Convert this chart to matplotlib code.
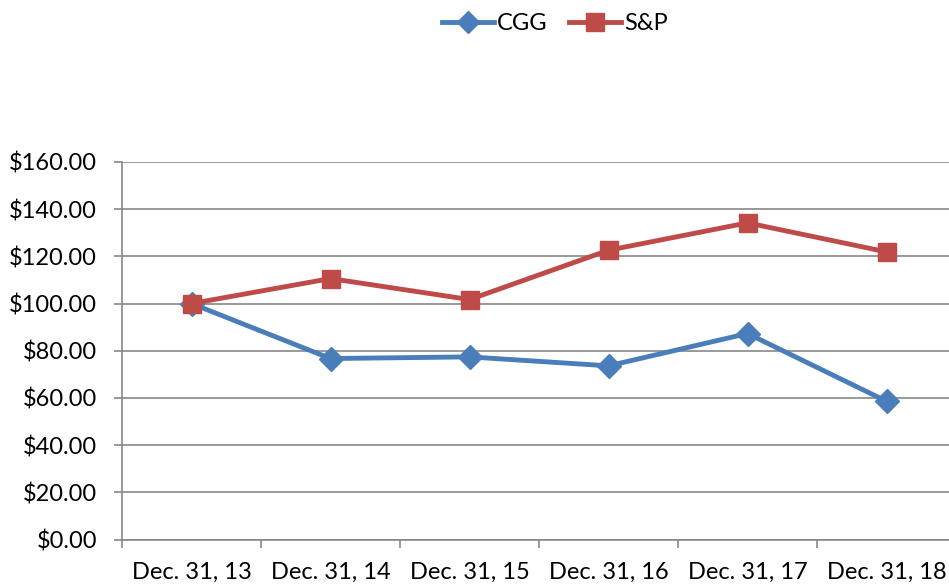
import matplotlib.pyplot as plt
from matplotlib.lines import Line2D
import numpy as np

plt.rcParams['font.family'] = ['Lato', 'DejaVu Sans']

dates = ["Dec. 31, 13", "Dec. 31, 14", "Dec. 31, 15", "Dec. 31, 16", "Dec. 31, 17", "Dec. 31, 18"]
cgg = [100.0, 76.7, 77.4, 73.6, 87.3, 58.6]
snp = [100.0, 110.6, 101.7, 122.6, 134.2, 121.9]

BLUE = "#4A7EBB"
RED = "#BE4B48"
GRID = "#888888"

fig = plt.figure(figsize=(9.49, 5.85), dpi=100)
W, H = 949, 585
ax = fig.add_axes([122 / W, (H - 539.5) / H, (956 - 122) / W, (539.5 - 162) / H])

x = np.arange(len(dates))
ax.plot(x, cgg, color=BLUE, lw=3.5, marker="D", ms=12, mec=BLUE, mfc=BLUE, zorder=3)
ax.plot(x, snp, color=RED, lw=3.5, marker="s", ms=13.5, mec=RED, mfc=RED, zorder=4)

ax.set_xlim(-0.5, len(dates) - 0.5)
ax.set_ylim(0, 160)
ax.set_yticks(np.arange(0, 161, 20))
ax.set_yticklabels([f"${v:.2f}" for v in np.arange(0, 161, 20)])
ax.yaxis.grid(True, color=GRID, lw=1.2)
ax.set_axisbelow(True)

ax.set_xticks(x)
ax.set_xticklabels(dates)
ax.set_xticks(np.arange(-0.5, len(dates)), minor=True)
ax.tick_params(axis="x", which="major", length=0, pad=16, labelsize=17)
ax.tick_params(axis="x", which="minor", length=6, width=1.2, color=GRID)
ax.tick_params(axis="y", length=6, width=1.2, color=GRID, pad=12, labelsize=17)

for s in ["top", "right"]:
    ax.spines[s].set_visible(False)
for s in ["left", "bottom"]:
    ax.spines[s].set_color(GRID)
    ax.spines[s].set_linewidth(1.2)

handles = [
    Line2D([0], [0], color=BLUE, lw=3.5, marker="D", ms=11, label="CGG"),
    Line2D([0], [0], color=RED, lw=3.5, marker="s", ms=12.5, label="S&P"),
]
fig.legend(handles=handles, loc="center", bbox_to_anchor=(555 / W, 1 - 24 / H), ncol=2,
           frameon=False, fontsize=17, handlelength=2.2, handletextpad=0.15,
           columnspacing=0.9)

fig.savefig("out.png", dpi=100)
